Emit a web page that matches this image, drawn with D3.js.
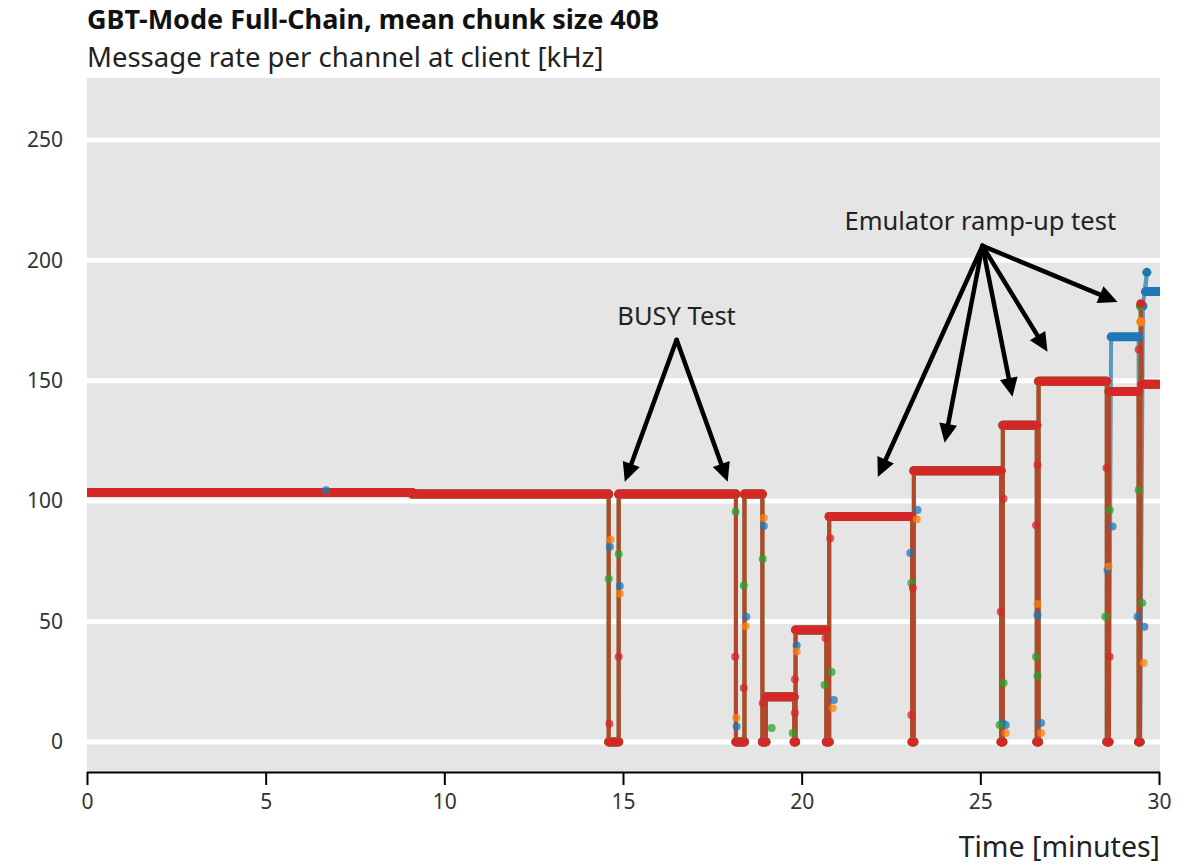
<!DOCTYPE html>
<html>
<head>
<meta charset="utf-8">
<script src="https://cdn.jsdelivr.net/npm/d3@7"></script>
<style>
  body { margin: 0; background: #fff; }
  svg { display: block; font-family: "Noto Sans", "Open Sans", sans-serif; }
</style>
</head>
<body>
<svg id="chart" width="1195" height="864"></svg>
<script>
// rate levels shared by all four channels: [start min, end min, kHz]
const commonSteps = [
  [0, 9.1, 103.6], [9.1, 14.6, 102.9], [14.6, 14.88, 0], [14.88, 18.16, 102.9],
  [18.16, 18.4, 0], [18.4, 18.9, 102.9], [18.9, 19.0, 0], [19.0, 19.79, 18.7],
  [19.79, 19.83, 0], [19.83, 20.69, 46.5], [20.69, 20.77, 0], [20.77, 23.09, 93.6],
  [23.09, 23.14, 0], [23.14, 25.58, 112.6], [25.58, 25.63, 0], [25.63, 26.58, 131.5],
  [26.58, 26.63, 0], [26.63, 28.54, 149.8]
];

// last two minutes, where the channels differ
const tailRed    = [[28.54, 28.6, 0], [28.6, 29.43, 145.5], [29.43, 29.47, 0], [29.49, 29.49, 182], [29.52, 30, 148.5]];
const tailOrange = [[28.54, 28.6, 0], [28.6, 29.43, 145.5], [29.43, 29.47, 0], [29.49, 29.49, 174.5], [29.52, 30, 148.5]];
const tailGreen  = [[28.54, 28.6, 0], [28.6, 29.43, 145.5], [29.43, 29.47, 0], [29.48, 29.48, 181], [29.52, 30, 148.5]];
const tailBlue   = [[28.54, 28.6, 0], [28.66, 29.43, 168.2], [29.43, 29.47, 0], [29.55, 29.55, 181], [29.66, 29.66, 195], [29.62, 30, 187]];

// samples caught in the middle of a transition: [min, kHz]
const dotsBlue = [[6.69, 104.5], [14.63, 81], [14.91, 64.7], [18.45, 52], [18.18, 6.4], [18.94, 89.7], [19.86, 40],
  [20.9, 17.4], [23.24, 96.3], [23.04, 78.4], [25.71, 7], [25.62, 7.9], [26.6, 52.7], [26.7, 7.9],
  [28.7, 89.4], [28.56, 71.4], [29.4, 52], [29.59, 47.8]];
const dotsOrange = [[14.65, 84], [14.91, 61.5], [18.43, 48], [18.17, 10], [18.94, 93], [19.86, 37.5], [20.87, 14],
  [23.22, 92.5], [25.71, 3.7], [26.6, 57.3], [26.7, 3.7], [28.59, 72.8], [29.57, 32.8]];
const dotsGreen = [[14.6, 67.7], [14.88, 78], [18.15, 95.6], [18.38, 65], [18.91, 76], [19.75, 3.7], [19.16, 5.8],
  [20.84, 29], [20.64, 23.6], [23.07, 66], [25.65, 24.5], [25.54, 7], [26.56, 35.4], [26.6, 27.4],
  [28.62, 96.3], [28.5, 52], [29.43, 104.6], [29.53, 57.7]];
const dotsRed = [[14.62, 7.5], [14.88, 35.4], [18.14, 35.4], [18.38, 22.4], [18.91, 16], [19.81, 26], [19.81, 12],
  [20.67, 43], [20.8, 84.6], [23.11, 63.9], [23.07, 11.2], [25.65, 101], [25.57, 54], [26.6, 115],
  [26.56, 90], [28.53, 113.7], [28.62, 35.4], [29.43, 163]];

const xTicks = [0, 5, 10, 15, 20, 25, 30];
const yTicks = [0, 50, 100, 150, 200, 250];

// annotations: label position and arrow tips, in data units
const busyLabel = { text: "BUSY Test", t: 16.5, v: 173, from: [16.5, 167], tips: [[15.05, 108], [17.93, 108]] };
const rampLabel = { text: "Emulator ramp-up test", t: 25.0, v: 212.6, from: [25.06, 206],
  tips: [[22.13, 110], [24.0, 124.2], [25.9, 143.3], [26.88, 162], [28.84, 182.7]] };

const series = [
  { color: "#1f77b4", steps: commonSteps.concat(tailBlue), dots: dotsBlue },
  { color: "#ff7f0e", steps: commonSteps.concat(tailOrange), dots: dotsOrange },
  { color: "#2ca02c", steps: commonSteps.concat(tailGreen), dots: dotsGreen },
  { color: "#d62728", steps: commonSteps.concat(tailRed), dots: dotsRed }
];

const svg = d3.select("#chart");
const m = { left: 87, right: 1160, top: 78, bottom: 772 };

const x = d3.scaleLinear().domain([0, 30]).range([m.left, 1159]);
const y = d3.scaleLinear().domain([-12.5, 275.7]).range([m.bottom, m.top]);

// titles
svg.append("text").attr("x", m.left).attr("y", 29)
  .attr("font-size", 27).attr("font-weight", 700).attr("fill", "#111")
  .text("GBT-Mode Full-Chain, mean chunk size 40B");
svg.append("text").attr("x", m.left).attr("y", 66.5)
  .attr("font-size", 27.5).attr("fill", "#222")
  .text("Message rate per channel at client [kHz]");

// panel
svg.append("rect").attr("x", m.left).attr("y", m.top)
  .attr("width", m.right - m.left).attr("height", m.bottom - m.top).attr("fill", "#e5e5e5");

svg.append("g").selectAll("line").data(yTicks).join("line")
  .attr("x1", m.left).attr("x2", m.right)
  .attr("y1", d => y(d)).attr("y2", d => y(d))
  .attr("stroke", "#fff").attr("stroke-width", 5);

svg.append("g").selectAll("text").data(yTicks).join("text")
  .attr("x", 63).attr("y", d => y(d)).attr("dy", "0.35em")
  .attr("text-anchor", "end").attr("font-size", 21).attr("fill", "#333")
  .text(d => d);

svg.append("clipPath").attr("id", "clip")
  .append("rect").attr("x", m.left).attr("y", m.top).attr("width", m.right - m.left).attr("height", m.bottom - m.top);

const plot = svg.append("g").attr("clip-path", "url(#clip)");

// channel lines, overlapping with transparency
const line = d3.line().x(d => x(d[0])).y(d => y(d[1]));
series.forEach(s => {
  const pts = [];
  s.steps.forEach(st => { pts.push([st[0], st[2]]); pts.push([st[1], st[2]]); });
  plot.append("path").datum(pts)
    .attr("fill", "none").attr("stroke", s.color)
    .attr("stroke-width", 4).attr("stroke-opacity", 0.7)
    .attr("stroke-linejoin", "round")
    .attr("d", line);
});

// dense markers on each level
series.forEach(s => {
  plot.append("g").selectAll("line").data(s.steps).join("line")
    .attr("x1", d => x(d[0])).attr("x2", d => x(d[1]))
    .attr("y1", d => y(d[2])).attr("y2", d => y(d[2]))
    .attr("stroke", s.color).attr("stroke-width", 9)
    .attr("stroke-linecap", "round");
});

// transition samples
series.forEach(s => {
  plot.append("g").selectAll("circle").data(s.dots).join("circle")
    .attr("cx", d => x(d[0])).attr("cy", d => y(d[1])).attr("r", 4)
    .attr("fill", s.color).attr("fill-opacity", 0.75);
});

// x axis
const xAxis = svg.append("g").attr("transform", `translate(0,${m.bottom})`)
  .call(d3.axisBottom(x).tickValues(xTicks).tickSize(13).tickPadding(9));
xAxis.select(".domain").attr("stroke", "#000").attr("stroke-width", 2).attr("d", `M${m.left},0.5H${m.right}`);
xAxis.selectAll(".tick line").attr("stroke", "#000").attr("stroke-width", 2);
xAxis.selectAll(".tick text").attr("font-size", 21).attr("fill", "#333")
  .attr("font-family", "'Noto Sans', 'Open Sans', sans-serif");

svg.append("text").attr("x", m.right).attr("y", 857)
  .attr("text-anchor", "end").attr("font-size", 28.5).attr("fill", "#222")
  .text("Time [minutes]");

// annotations
function arrow(from, to) {
  const x0 = x(from[0]), y0 = y(from[1]), x1 = x(to[0]), y1 = y(to[1]);
  const ang = Math.atan2(y1 - y0, x1 - x0);
  const len = 19, half = 9;
  const bx = x1 - len * Math.cos(ang), by = y1 - len * Math.sin(ang);
  svg.append("line").attr("x1", x0).attr("y1", y0).attr("x2", bx).attr("y2", by)
    .attr("stroke", "#000").attr("stroke-width", 4.5).attr("stroke-linecap", "round");
  const px = -Math.sin(ang) * half, py = Math.cos(ang) * half;
  svg.append("path")
    .attr("d", `M${x1},${y1}L${bx + px},${by + py}L${bx - px},${by - py}Z`)
    .attr("fill", "#000");
}

[busyLabel, rampLabel].forEach(a => {
  svg.append("text").attr("x", x(a.t)).attr("y", y(a.v))
    .attr("text-anchor", "middle").attr("font-size", 25.5).attr("fill", "#222")
    .text(a.text);
  a.tips.forEach(tp => arrow(a.from, tp));
});
</script>
</body>
</html>
